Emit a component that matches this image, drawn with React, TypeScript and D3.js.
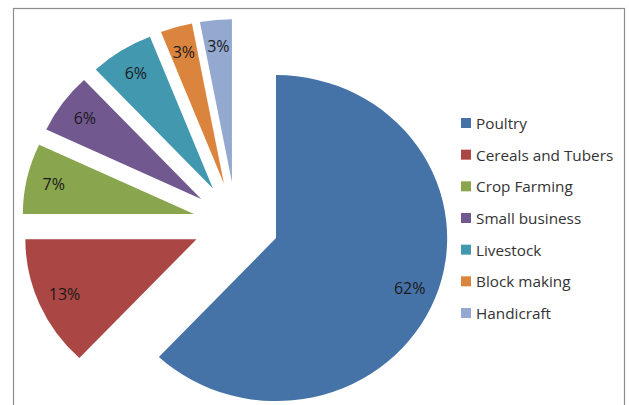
import React from "react";
import * as d3 from "d3";

const categories = ["Poultry", "Cereals and Tubers", "Crop Farming", "Small business", "Livestock", "Block making", "Handicraft"];
const values = [62, 13, 7, 6, 6, 3, 3];
const colors = ["#4572A7", "#AA4643", "#89A54E", "#71588F", "#4198AF", "#DB843D", "#93A9CF"];

const W = 629, H = 405;
const CX = 236, CY = 223, R = 163, SX = 1.05, EXPLODE = 41;

export default function App() {
  const pie = d3.pie<number>().sort(null).value((d) => d)(values);
  const arc = d3.arc<d3.PieArcDatum<number>>().innerRadius(0).outerRadius(R);
  const font = "'Open Sans', sans-serif";
  const legendY = d3.scalePoint<string>().domain(categories).range([123, 313]);

  return (
    <svg width={W} height={H} style={{ position: "fixed", left: 0, top: 0, background: "#fff" }}>
      <rect x={13.5} y={8.5} width={611} height={410} fill="#fff" stroke="#8c8c8c" strokeWidth={1.2} />
      <g transform={`translate(${CX},${CY}) scale(${SX},1)`}>
        {pie.map((p, i) => {
          const mid = (p.startAngle + p.endAngle) / 2;
          const ox = Math.sin(mid) * EXPLODE;
          const oy = -Math.cos(mid) * EXPLODE;
          return (
            <path key={i} d={arc(p) || ""} fill={colors[i]} transform={`translate(${ox},${oy})`} />
          );
        })}
      </g>
      {pie.map((p, i) => {
        const mid = (p.startAngle + p.endAngle) / 2;
        const k = EXPLODE + 0.84 * R;
        const x = CX + Math.sin(mid) * k * SX;
        const y = CY - Math.cos(mid) * k;
        return (
          <text key={i} x={x} y={y} textAnchor="middle" dominantBaseline="central"
            fontFamily={font} fontSize={16} fill="#1a1a1a">
            {`${p.data}%`}
          </text>
        );
      })}
      {categories.map((c, i) => (
        <g key={c} transform={`translate(461,${legendY(c)})`}>
          <rect x={0} y={-5} width={10} height={10} fill={colors[i]} />
          <text x={15} y={0} dominantBaseline="central" fontFamily={font} fontSize={15.3} fill="#333">
            {c}
          </text>
        </g>
      ))}
    </svg>
  );
}
